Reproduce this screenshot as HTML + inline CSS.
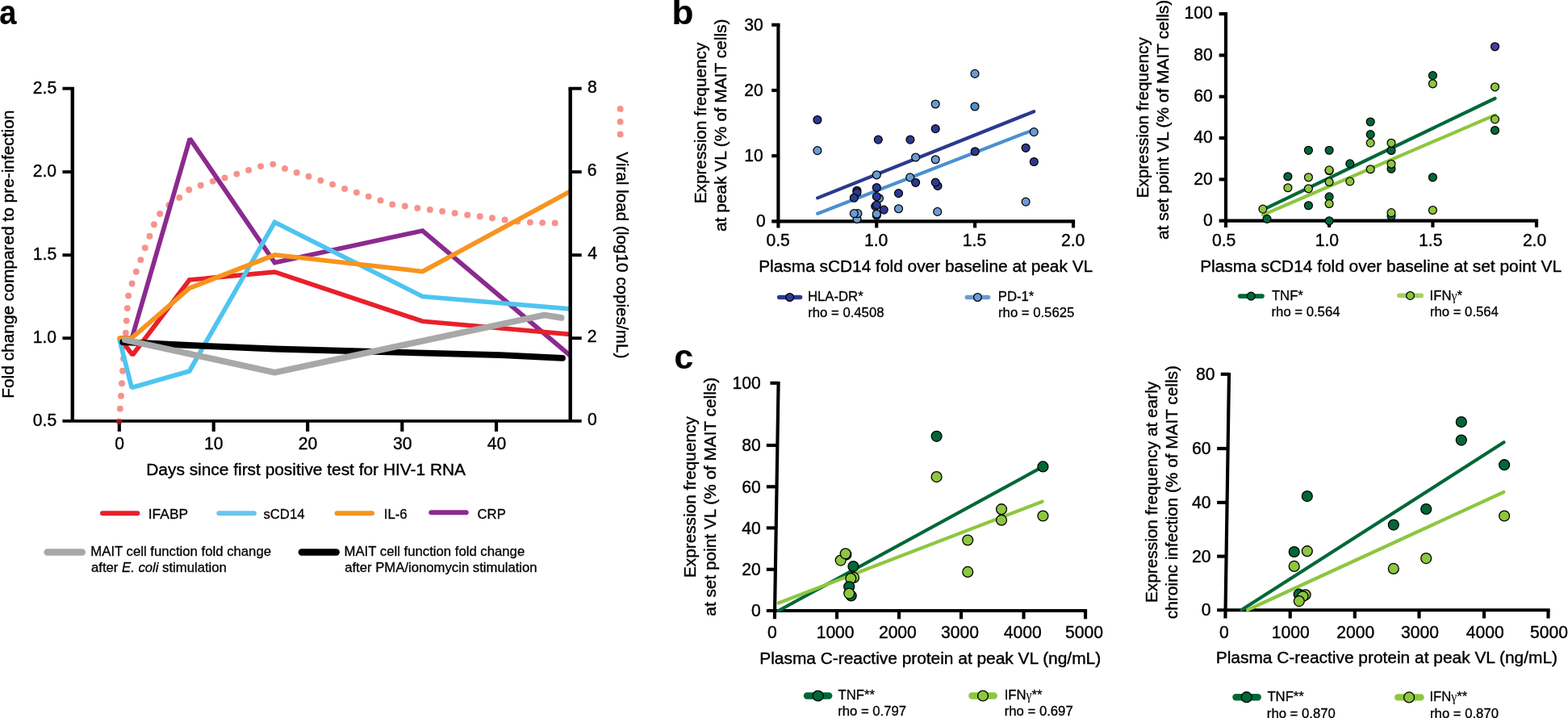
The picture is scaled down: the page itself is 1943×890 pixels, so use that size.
<!DOCTYPE html>
<html lang="en"><head><meta charset="utf-8"><title>Figure</title>
<style>
html,body{margin:0;padding:0;background:#fff;}
body{width:1943px;height:890px;overflow:hidden;}
svg{display:block;font-family:"Liberation Sans",sans-serif;}
text{fill:#000;stroke:#000;stroke-width:0.4px;stroke-linejoin:round;}
text.b{stroke-width:0.2px;}
text.s{stroke-width:0.3px;}
</style></head><body>
<svg width="1943" height="890" viewBox="0 0 1943 890">
<rect width="1943" height="890" fill="#fff"/>
<g id="panel-a">
<text x="-0.69" y="30.40" font-size="43.00" font-weight="bold" class="b" textLength="21.20" lengthAdjust="spacingAndGlyphs" >a</text>
<circle cx="147.50" cy="522.10" r="3.95" fill="#F6928B"/>
<circle cx="148.80" cy="506.60" r="3.95" fill="#F6928B"/>
<circle cx="150.00" cy="490.80" r="3.95" fill="#F6928B"/>
<circle cx="151.00" cy="475.30" r="3.95" fill="#F6928B"/>
<circle cx="152.00" cy="459.80" r="3.95" fill="#F6928B"/>
<circle cx="153.00" cy="444.50" r="3.95" fill="#F6928B"/>
<circle cx="154.30" cy="429.00" r="3.95" fill="#F6928B"/>
<circle cx="155.80" cy="412.70" r="3.95" fill="#F6928B"/>
<circle cx="156.80" cy="397.60" r="3.95" fill="#F6928B"/>
<circle cx="157.80" cy="382.10" r="3.95" fill="#F6928B"/>
<circle cx="159.10" cy="366.60" r="3.95" fill="#F6928B"/>
<circle cx="163.60" cy="351.50" r="3.95" fill="#F6928B"/>
<circle cx="168.80" cy="336.80" r="3.95" fill="#F6928B"/>
<circle cx="174.30" cy="322.10" r="3.95" fill="#F6928B"/>
<circle cx="179.80" cy="307.30" r="3.95" fill="#F6928B"/>
<circle cx="185.40" cy="292.80" r="3.95" fill="#F6928B"/>
<circle cx="190.90" cy="278.30" r="3.95" fill="#F6928B"/>
<circle cx="198.10" cy="265.00" r="3.95" fill="#F6928B"/>
<circle cx="209.40" cy="254.30" r="3.95" fill="#F6928B"/>
<circle cx="222.20" cy="244.90" r="3.95" fill="#F6928B"/>
<circle cx="234.20" cy="235.20" r="3.95" fill="#F6928B"/>
<circle cx="248.70" cy="229.70" r="3.95" fill="#F6928B"/>
<circle cx="263.80" cy="224.60" r="3.95" fill="#F6928B"/>
<circle cx="278.50" cy="220.40" r="3.95" fill="#F6928B"/>
<circle cx="293.30" cy="215.60" r="3.95" fill="#F6928B"/>
<circle cx="308.10" cy="210.90" r="3.95" fill="#F6928B"/>
<circle cx="323.10" cy="206.10" r="3.95" fill="#F6928B"/>
<circle cx="338.20" cy="203.60" r="3.95" fill="#F6928B"/>
<circle cx="353.00" cy="208.90" r="3.95" fill="#F6928B"/>
<circle cx="367.70" cy="213.90" r="3.95" fill="#F6928B"/>
<circle cx="382.50" cy="218.80" r="3.95" fill="#F6928B"/>
<circle cx="397.30" cy="223.80" r="3.95" fill="#F6928B"/>
<circle cx="412.10" cy="228.60" r="3.95" fill="#F6928B"/>
<circle cx="427.10" cy="233.90" r="3.95" fill="#F6928B"/>
<circle cx="441.90" cy="238.60" r="3.95" fill="#F6928B"/>
<circle cx="456.70" cy="243.60" r="3.95" fill="#F6928B"/>
<circle cx="471.50" cy="248.40" r="3.95" fill="#F6928B"/>
<circle cx="486.20" cy="253.40" r="3.95" fill="#F6928B"/>
<circle cx="501.80" cy="255.40" r="3.95" fill="#F6928B"/>
<circle cx="517.30" cy="257.90" r="3.95" fill="#F6928B"/>
<circle cx="532.80" cy="259.90" r="3.95" fill="#F6928B"/>
<circle cx="548.10" cy="261.90" r="3.95" fill="#F6928B"/>
<circle cx="563.60" cy="264.20" r="3.95" fill="#F6928B"/>
<circle cx="579.20" cy="266.40" r="3.95" fill="#F6928B"/>
<circle cx="594.70" cy="268.20" r="3.95" fill="#F6928B"/>
<circle cx="610.00" cy="270.30" r="3.95" fill="#F6928B"/>
<circle cx="625.60" cy="272.40" r="3.95" fill="#F6928B"/>
<circle cx="641.30" cy="274.40" r="3.95" fill="#F6928B"/>
<circle cx="656.90" cy="275.60" r="3.95" fill="#F6928B"/>
<circle cx="672.10" cy="276.10" r="3.95" fill="#F6928B"/>
<circle cx="687.70" cy="276.40" r="3.95" fill="#F6928B"/>
<circle cx="768.60" cy="134.90" r="3.95" fill="#F6928B"/>
<circle cx="768.60" cy="150.90" r="3.95" fill="#F6928B"/>
<circle cx="768.60" cy="166.40" r="3.95" fill="#F6928B"/>
<clipPath id="plotclip"><rect x="80" y="100" width="625.20" height="440"/></clipPath>
<g clip-path="url(#plotclip)">
<polyline points="148.50,419.00 163.50,419.00 235.30,171.80 340.40,325.50 523.60,286.00 708.00,441.85" fill="none" stroke="#8C2A8F" stroke-width="5.70" stroke-linecap="butt" stroke-linejoin="miter" stroke-miterlimit="1.42"/>
<polyline points="148.30,419.00 164.30,440.00 234.70,347.00 340.40,337.10 523.60,398.30 708.00,414.59" fill="none" stroke="#E8202A" stroke-width="5.70" stroke-linecap="butt" stroke-linejoin="miter" stroke-miterlimit="1.42"/>
<polyline points="147.60,419.00 163.20,480.50 234.70,460.00 340.40,275.40 523.60,367.50 708.00,383.08" fill="none" stroke="#4FC4F1" stroke-width="5.70" stroke-linecap="butt" stroke-linejoin="miter" stroke-miterlimit="1.42"/>
<polyline points="148.10,419.00 163.30,418.80 235.00,357.00 340.40,316.00 523.60,336.50 708.00,236.46" fill="none" stroke="#F7941E" stroke-width="5.70" stroke-linecap="round" stroke-linejoin="miter" stroke-miterlimit="1.42"/>
</g>
<polyline points="152.20,424.00 234.00,428.00 340.00,432.50 620.00,440.10 697.00,443.80" fill="none" stroke="#000" stroke-width="7.80" stroke-linecap="round" stroke-linejoin="round" stroke-miterlimit="10"/>
<polyline points="154.90,421.20 340.40,461.70 674.40,390.50 695.60,393.80" fill="none" stroke="#A8A8A8" stroke-width="7.80" stroke-linecap="round" stroke-linejoin="round" stroke-miterlimit="10"/>
<line x1="89.80" y1="109.70" x2="89.80" y2="521.90" stroke="#000" stroke-width="4.40" stroke-linecap="butt"/>
<line x1="706.70" y1="109.70" x2="706.70" y2="521.90" stroke="#000" stroke-width="4.40" stroke-linecap="butt"/>
<line x1="77.40" y1="109.70" x2="92.00" y2="109.70" stroke="#000" stroke-width="3.92" stroke-linecap="butt"/>
<line x1="704.50" y1="109.70" x2="720.70" y2="109.70" stroke="#000" stroke-width="3.92" stroke-linecap="butt"/>
<line x1="77.40" y1="521.90" x2="720.70" y2="521.90" stroke="#000" stroke-width="3.92" stroke-linecap="butt"/>
<line x1="77.40" y1="213.10" x2="89.80" y2="213.10" stroke="#000" stroke-width="3.92" stroke-linecap="butt"/>
<line x1="706.70" y1="213.10" x2="720.70" y2="213.10" stroke="#000" stroke-width="3.92" stroke-linecap="butt"/>
<line x1="77.40" y1="316.20" x2="89.80" y2="316.20" stroke="#000" stroke-width="3.92" stroke-linecap="butt"/>
<line x1="706.70" y1="316.20" x2="720.70" y2="316.20" stroke="#000" stroke-width="3.92" stroke-linecap="butt"/>
<line x1="77.40" y1="419.20" x2="89.80" y2="419.20" stroke="#000" stroke-width="3.92" stroke-linecap="butt"/>
<line x1="706.70" y1="419.20" x2="720.70" y2="419.20" stroke="#000" stroke-width="3.92" stroke-linecap="butt"/>
<line x1="147.80" y1="521.90" x2="147.80" y2="534.90" stroke="#000" stroke-width="4.15" stroke-linecap="butt"/>
<line x1="264.70" y1="521.90" x2="264.70" y2="534.90" stroke="#000" stroke-width="4.15" stroke-linecap="butt"/>
<line x1="381.20" y1="521.90" x2="381.20" y2="534.90" stroke="#000" stroke-width="4.15" stroke-linecap="butt"/>
<line x1="498.30" y1="521.90" x2="498.30" y2="534.90" stroke="#000" stroke-width="4.15" stroke-linecap="butt"/>
<line x1="615.00" y1="521.90" x2="615.00" y2="534.90" stroke="#000" stroke-width="4.15" stroke-linecap="butt"/>
<text x="40.81" y="115.60" font-size="22.40" textLength="29.33" lengthAdjust="spacingAndGlyphs" >2.5</text>
<text x="40.76" y="219.00" font-size="22.40" textLength="29.33" lengthAdjust="spacingAndGlyphs" >2.0</text>
<text x="40.81" y="322.10" font-size="22.40" textLength="29.33" lengthAdjust="spacingAndGlyphs" >1.5</text>
<text x="40.76" y="425.10" font-size="22.40" textLength="29.33" lengthAdjust="spacingAndGlyphs" >1.0</text>
<text x="40.81" y="527.80" font-size="22.40" textLength="29.33" lengthAdjust="spacingAndGlyphs" >0.5</text>
<text x="727.90" y="114.70" font-size="22.40" textLength="11.74" lengthAdjust="spacingAndGlyphs" >8</text>
<text x="727.75" y="218.10" font-size="22.40" textLength="11.74" lengthAdjust="spacingAndGlyphs" >6</text>
<text x="728.33" y="321.20" font-size="22.40" textLength="11.74" lengthAdjust="spacingAndGlyphs" >4</text>
<text x="727.75" y="424.20" font-size="22.40" textLength="11.74" lengthAdjust="spacingAndGlyphs" >2</text>
<text x="727.96" y="526.90" font-size="22.40" textLength="11.74" lengthAdjust="spacingAndGlyphs" >0</text>
<text x="142.32" y="556.60" font-size="22.40" textLength="11.74" lengthAdjust="spacingAndGlyphs" >0</text>
<text x="252.99" y="556.60" font-size="22.40" textLength="23.47" lengthAdjust="spacingAndGlyphs" >10</text>
<text x="369.76" y="556.60" font-size="22.40" textLength="23.47" lengthAdjust="spacingAndGlyphs" >20</text>
<text x="486.99" y="556.60" font-size="22.40" textLength="23.47" lengthAdjust="spacingAndGlyphs" >30</text>
<text x="603.85" y="556.60" font-size="22.40" textLength="23.47" lengthAdjust="spacingAndGlyphs" >40</text>
<text x="181.28" y="589.00" font-size="20.85" textLength="395.74" lengthAdjust="spacingAndGlyphs" >Days since first positive test for HIV-1 RNA</text>
<text transform="translate(16.60,493.72) rotate(-90)" font-size="20.85" textLength="357.11" lengthAdjust="spacingAndGlyphs" >Fold change compared to pre-infection</text>
<text transform="translate(764.30,188.30) rotate(90)" font-size="20.85" textLength="255.99" lengthAdjust="spacingAndGlyphs" >Viral load (log10 copies/mL)</text>
<clipPath id="axclip"><rect x="77.4" y="519.94" width="650" height="3.92"/><rect x="145.73" y="520" width="4.15" height="14.3"/></clipPath>
<circle cx="147.5" cy="522.1" r="3.95" fill="#7E1B1B" clip-path="url(#axclip)"/>
<line x1="127.00" y1="636.20" x2="170.30" y2="636.20" stroke="#E8202A" stroke-width="6.00" stroke-linecap="round"/>
<line x1="271.30" y1="636.20" x2="314.90" y2="636.20" stroke="#6AC5EE" stroke-width="6.00" stroke-linecap="round"/>
<line x1="417.60" y1="636.20" x2="461.00" y2="636.20" stroke="#F7941E" stroke-width="6.00" stroke-linecap="round"/>
<line x1="534.30" y1="635.20" x2="577.70" y2="635.20" stroke="#8C2A8F" stroke-width="6.00" stroke-linecap="round"/>
<text x="183.79" y="642.60" font-size="16.70" class="s" textLength="49.31" lengthAdjust="spacingAndGlyphs" >IFABP</text>
<text x="326.44" y="642.60" font-size="16.70" class="s" >sCD14</text>
<text x="475.76" y="642.60" font-size="16.70" class="s" >IL-6</text>
<text x="591.56" y="642.60" font-size="16.70" class="s" >CRP</text>
<line x1="58.60" y1="684.50" x2="101.80" y2="684.50" stroke="#A8A8A8" stroke-width="8.40" stroke-linecap="round"/>
<line x1="373.80" y1="684.50" x2="416.70" y2="684.50" stroke="#000" stroke-width="8.40" stroke-linecap="round"/>
<text x="112.32" y="689.00" font-size="16.70" class="s" textLength="223.71" lengthAdjust="spacingAndGlyphs" >MAIT cell function fold change</text>
<text class="s" x="112.99" y="709.0" font-size="16.70">after <tspan font-style="italic">E. coli</tspan> stimulation</text>
<text x="426.52" y="689.00" font-size="16.70" class="s" textLength="223.71" lengthAdjust="spacingAndGlyphs" >MAIT cell function fold change</text>
<text x="427.19" y="709.00" font-size="16.70" class="s" textLength="238.41" lengthAdjust="spacingAndGlyphs" >after PMA/ionomycin stimulation</text>
</g>
<g id="panel-b">
<text x="832.63" y="30.20" font-size="43.00" font-weight="bold" class="b" textLength="26.97" lengthAdjust="spacingAndGlyphs" >b</text>
<line x1="964.40" y1="30.80" x2="964.40" y2="282.40" stroke="#000" stroke-width="4.15" stroke-linecap="butt"/>
<line x1="956.20" y1="274.40" x2="1332.08" y2="274.40" stroke="#000" stroke-width="4.15" stroke-linecap="butt"/>
<line x1="956.20" y1="30.80" x2="966.48" y2="30.80" stroke="#000" stroke-width="4.15" stroke-linecap="butt"/>
<line x1="956.20" y1="112.00" x2="964.40" y2="112.00" stroke="#000" stroke-width="4.15" stroke-linecap="butt"/>
<line x1="956.20" y1="193.20" x2="964.40" y2="193.20" stroke="#000" stroke-width="4.15" stroke-linecap="butt"/>
<line x1="1086.20" y1="274.40" x2="1086.20" y2="282.40" stroke="#000" stroke-width="4.15" stroke-linecap="butt"/>
<line x1="1208.10" y1="274.40" x2="1208.10" y2="282.40" stroke="#000" stroke-width="4.15" stroke-linecap="butt"/>
<line x1="1330.00" y1="274.40" x2="1330.00" y2="282.40" stroke="#000" stroke-width="4.15" stroke-linecap="butt"/>
<line x1="1013.10" y1="245.40" x2="1281.20" y2="138.20" stroke="#2B3990" stroke-width="4.20" stroke-linecap="round"/>
<line x1="1013.10" y1="264.80" x2="1281.20" y2="160.80" stroke="#4B90CF" stroke-width="4.20" stroke-linecap="round"/>
<circle cx="1062.00" cy="271.40" r="4.95" fill="#6B9BD2" stroke="#000" stroke-width="1.25"/>
<circle cx="1062.90" cy="264.60" r="4.95" fill="#6B9BD2" stroke="#000" stroke-width="1.25"/>
<circle cx="1086.30" cy="267.10" r="4.95" fill="#2B3990" stroke="#000" stroke-width="1.25"/>
<circle cx="1084.70" cy="255.60" r="4.95" fill="#2B3990" stroke="#000" stroke-width="1.25"/>
<circle cx="1089.40" cy="245.70" r="4.95" fill="#6B9BD2" stroke="#000" stroke-width="1.25"/>
<circle cx="1162.00" cy="230.40" r="4.95" fill="#2B3990" stroke="#000" stroke-width="1.25"/>
<circle cx="1061.90" cy="236.20" r="4.95" fill="#2B3990" stroke="#000" stroke-width="1.25"/>
<circle cx="1127.70" cy="219.90" r="4.95" fill="#6B9BD2" stroke="#000" stroke-width="1.25"/>
<circle cx="1012.90" cy="148.50" r="4.95" fill="#2B3990" stroke="#000" stroke-width="1.25"/>
<circle cx="1012.90" cy="186.60" r="4.95" fill="#6B9BD2" stroke="#000" stroke-width="1.25"/>
<circle cx="1208.00" cy="91.40" r="4.95" fill="#6B9BD2" stroke="#000" stroke-width="1.25"/>
<circle cx="1159.20" cy="129.00" r="4.95" fill="#6B9BD2" stroke="#000" stroke-width="1.25"/>
<circle cx="1208.00" cy="132.00" r="4.95" fill="#4B90CF" stroke="#000" stroke-width="1.25"/>
<circle cx="1159.20" cy="159.60" r="4.95" fill="#2B3990" stroke="#000" stroke-width="1.25"/>
<circle cx="1088.30" cy="173.10" r="4.95" fill="#2B3990" stroke="#000" stroke-width="1.25"/>
<circle cx="1127.90" cy="173.10" r="4.95" fill="#2B3990" stroke="#000" stroke-width="1.25"/>
<circle cx="1134.60" cy="195.00" r="4.95" fill="#6B9BD2" stroke="#000" stroke-width="1.25"/>
<circle cx="1159.20" cy="197.70" r="4.95" fill="#6B9BD2" stroke="#000" stroke-width="1.25"/>
<circle cx="1208.20" cy="187.70" r="4.95" fill="#2B3990" stroke="#000" stroke-width="1.25"/>
<circle cx="1281.20" cy="163.60" r="4.95" fill="#6B9BD2" stroke="#000" stroke-width="1.25"/>
<circle cx="1271.10" cy="183.30" r="4.95" fill="#2B3990" stroke="#000" stroke-width="1.25"/>
<circle cx="1281.30" cy="200.50" r="4.95" fill="#2B3990" stroke="#000" stroke-width="1.25"/>
<circle cx="1086.30" cy="216.80" r="4.95" fill="#6B9BD2" stroke="#000" stroke-width="1.25"/>
<circle cx="1134.60" cy="226.30" r="4.95" fill="#2B3990" stroke="#000" stroke-width="1.25"/>
<circle cx="1159.20" cy="226.10" r="4.95" fill="#2B3990" stroke="#000" stroke-width="1.25"/>
<circle cx="1061.90" cy="238.70" r="4.95" fill="#2B3990" stroke="#000" stroke-width="1.25"/>
<circle cx="1058.30" cy="245.20" r="4.95" fill="#2B3990" stroke="#000" stroke-width="1.25"/>
<circle cx="1086.30" cy="232.50" r="4.95" fill="#2B3990" stroke="#000" stroke-width="1.25"/>
<circle cx="1113.50" cy="239.60" r="4.95" fill="#2B3990" stroke="#000" stroke-width="1.25"/>
<circle cx="1086.30" cy="243.60" r="4.95" fill="#2B3990" stroke="#000" stroke-width="1.25"/>
<circle cx="1086.30" cy="254.10" r="4.95" fill="#2B3990" stroke="#000" stroke-width="1.25"/>
<circle cx="1095.20" cy="260.10" r="4.95" fill="#2B3990" stroke="#000" stroke-width="1.25"/>
<circle cx="1113.50" cy="258.70" r="4.95" fill="#6B9BD2" stroke="#000" stroke-width="1.25"/>
<circle cx="1161.70" cy="262.40" r="4.95" fill="#6B9BD2" stroke="#000" stroke-width="1.25"/>
<circle cx="1271.10" cy="250.10" r="4.95" fill="#6B9BD2" stroke="#000" stroke-width="1.25"/>
<circle cx="1058.30" cy="264.60" r="4.95" fill="#6B9BD2" stroke="#000" stroke-width="1.25"/>
<circle cx="1086.30" cy="265.30" r="4.95" fill="#6B9BD2" stroke="#000" stroke-width="1.25"/>
<text x="922.37" y="37.90" font-size="21.70" textLength="23.47" lengthAdjust="spacingAndGlyphs" >30</text>
<text x="922.37" y="119.10" font-size="21.70" textLength="23.47" lengthAdjust="spacingAndGlyphs" >20</text>
<text x="922.37" y="200.30" font-size="21.70" textLength="23.47" lengthAdjust="spacingAndGlyphs" >10</text>
<text x="936.88" y="281.00" font-size="21.70" textLength="11.74" lengthAdjust="spacingAndGlyphs" >0</text>
<text x="949.54" y="304.90" font-size="21.70" textLength="29.33" lengthAdjust="spacingAndGlyphs" >0.5</text>
<text x="1070.94" y="304.90" font-size="21.70" textLength="29.33" lengthAdjust="spacingAndGlyphs" >1.0</text>
<text x="1192.87" y="304.90" font-size="21.70" textLength="29.33" lengthAdjust="spacingAndGlyphs" >1.5</text>
<text x="1315.00" y="304.90" font-size="21.70" textLength="29.33" lengthAdjust="spacingAndGlyphs" >2.0</text>
<text x="940.18" y="337.10" font-size="20.85" textLength="414.05" lengthAdjust="spacingAndGlyphs" >Plasma sCD14 fold over baseline at peak VL</text>
<text transform="translate(875.20,252.31) rotate(-90)" font-size="20.85" textLength="199.64" lengthAdjust="spacingAndGlyphs" >Expression frequency</text>
<text transform="translate(900.20,287.09) rotate(-90)" font-size="20.85" textLength="263.52" lengthAdjust="spacingAndGlyphs" >at peak VL (% of MAIT cells)</text>
<line x1="965.70" y1="368.50" x2="991.50" y2="368.50" stroke="#2B3990" stroke-width="5.60" stroke-linecap="round"/>
<circle cx="978.60" cy="368.50" r="4.90" fill="#2B3990" stroke="#000" stroke-width="1.25"/>
<text x="1001.02" y="372.90" font-size="16.70" class="s" >HLA-DR*</text>
<text x="1001.27" y="393.10" font-size="16.70" class="s" >rho = 0.4508</text>
<line x1="1198.40" y1="368.50" x2="1224.50" y2="368.50" stroke="#6B9BD2" stroke-width="5.60" stroke-linecap="round"/>
<circle cx="1211.40" cy="368.50" r="4.90" fill="#6B9BD2" stroke="#000" stroke-width="1.25"/>
<text x="1236.82" y="372.90" font-size="16.70" class="s" >PD-1*</text>
<text x="1237.07" y="393.10" font-size="16.70" class="s" >rho = 0.5625</text>
<line x1="1519.00" y1="17.20" x2="1519.00" y2="282.00" stroke="#000" stroke-width="4.15" stroke-linecap="butt"/>
<line x1="1510.60" y1="273.60" x2="1906.08" y2="273.60" stroke="#000" stroke-width="4.15" stroke-linecap="butt"/>
<line x1="1510.60" y1="17.20" x2="1521.08" y2="17.20" stroke="#000" stroke-width="4.15" stroke-linecap="butt"/>
<line x1="1510.60" y1="68.50" x2="1519.00" y2="68.50" stroke="#000" stroke-width="4.15" stroke-linecap="butt"/>
<line x1="1510.60" y1="119.80" x2="1519.00" y2="119.80" stroke="#000" stroke-width="4.15" stroke-linecap="butt"/>
<line x1="1510.60" y1="171.10" x2="1519.00" y2="171.10" stroke="#000" stroke-width="4.15" stroke-linecap="butt"/>
<line x1="1510.60" y1="222.40" x2="1519.00" y2="222.40" stroke="#000" stroke-width="4.15" stroke-linecap="butt"/>
<line x1="1647.10" y1="273.60" x2="1647.10" y2="281.80" stroke="#000" stroke-width="4.15" stroke-linecap="butt"/>
<line x1="1775.40" y1="273.60" x2="1775.40" y2="281.80" stroke="#000" stroke-width="4.15" stroke-linecap="butt"/>
<line x1="1904.00" y1="273.60" x2="1904.00" y2="281.80" stroke="#000" stroke-width="4.15" stroke-linecap="butt"/>
<line x1="1565.00" y1="260.00" x2="1852.50" y2="122.00" stroke="#006838" stroke-width="4.20" stroke-linecap="round"/>
<line x1="1565.00" y1="266.40" x2="1852.50" y2="142.60" stroke="#8DC63F" stroke-width="4.20" stroke-linecap="round"/>
<circle cx="1621.40" cy="186.30" r="4.95" fill="#006838" stroke="#000" stroke-width="1.25"/>
<circle cx="1647.10" cy="186.20" r="4.95" fill="#006838" stroke="#000" stroke-width="1.25"/>
<circle cx="1672.80" cy="202.90" r="4.95" fill="#006838" stroke="#000" stroke-width="1.25"/>
<circle cx="1595.90" cy="218.70" r="4.95" fill="#006838" stroke="#000" stroke-width="1.25"/>
<circle cx="1570.00" cy="271.40" r="4.95" fill="#006838" stroke="#000" stroke-width="1.25"/>
<circle cx="1647.10" cy="273.80" r="4.95" fill="#006838" stroke="#000" stroke-width="1.25"/>
<circle cx="1621.40" cy="254.70" r="4.95" fill="#006838" stroke="#000" stroke-width="1.25"/>
<circle cx="1647.10" cy="243.90" r="4.95" fill="#006838" stroke="#000" stroke-width="1.25"/>
<circle cx="1698.20" cy="151.00" r="4.95" fill="#006838" stroke="#000" stroke-width="1.25"/>
<circle cx="1698.20" cy="166.60" r="4.95" fill="#006838" stroke="#000" stroke-width="1.25"/>
<circle cx="1724.00" cy="186.50" r="4.95" fill="#006838" stroke="#000" stroke-width="1.25"/>
<circle cx="1724.00" cy="209.20" r="4.95" fill="#006838" stroke="#000" stroke-width="1.25"/>
<circle cx="1775.40" cy="219.80" r="4.95" fill="#006838" stroke="#000" stroke-width="1.25"/>
<circle cx="1724.00" cy="267.70" r="4.95" fill="#006838" stroke="#000" stroke-width="1.25"/>
<circle cx="1775.40" cy="93.60" r="4.95" fill="#006838" stroke="#000" stroke-width="1.25"/>
<circle cx="1852.50" cy="161.50" r="4.95" fill="#006838" stroke="#000" stroke-width="1.25"/>
<circle cx="1647.10" cy="211.60" r="4.95" fill="#006838" stroke="#000" stroke-width="1.25"/>
<circle cx="1852.50" cy="57.80" r="4.95" fill="#4E3A9C" stroke="#000" stroke-width="1.25"/>
<circle cx="1647.10" cy="210.90" r="4.95" fill="#8DC63F" stroke="#000" stroke-width="1.25"/>
<circle cx="1621.40" cy="219.80" r="4.95" fill="#8DC63F" stroke="#000" stroke-width="1.25"/>
<circle cx="1647.10" cy="225.50" r="4.95" fill="#8DC63F" stroke="#000" stroke-width="1.25"/>
<circle cx="1672.80" cy="224.90" r="4.95" fill="#8DC63F" stroke="#000" stroke-width="1.25"/>
<circle cx="1595.90" cy="232.70" r="4.95" fill="#8DC63F" stroke="#000" stroke-width="1.25"/>
<circle cx="1621.40" cy="233.80" r="4.95" fill="#8DC63F" stroke="#000" stroke-width="1.25"/>
<circle cx="1564.90" cy="259.10" r="4.95" fill="#8DC63F" stroke="#000" stroke-width="1.25"/>
<circle cx="1647.10" cy="252.50" r="4.95" fill="#8DC63F" stroke="#000" stroke-width="1.25"/>
<circle cx="1698.20" cy="177.10" r="4.95" fill="#8DC63F" stroke="#000" stroke-width="1.25"/>
<circle cx="1724.00" cy="177.30" r="4.95" fill="#8DC63F" stroke="#000" stroke-width="1.25"/>
<circle cx="1724.00" cy="203.30" r="4.95" fill="#8DC63F" stroke="#000" stroke-width="1.25"/>
<circle cx="1698.20" cy="209.70" r="4.95" fill="#8DC63F" stroke="#000" stroke-width="1.25"/>
<circle cx="1775.40" cy="260.50" r="4.95" fill="#8DC63F" stroke="#000" stroke-width="1.25"/>
<circle cx="1724.00" cy="263.60" r="4.95" fill="#8DC63F" stroke="#000" stroke-width="1.25"/>
<circle cx="1775.40" cy="103.80" r="4.95" fill="#8DC63F" stroke="#000" stroke-width="1.25"/>
<circle cx="1852.50" cy="107.80" r="4.95" fill="#8DC63F" stroke="#000" stroke-width="1.25"/>
<circle cx="1852.50" cy="147.90" r="4.95" fill="#8DC63F" stroke="#000" stroke-width="1.25"/>
<text x="1467.61" y="23.40" font-size="21.70" textLength="35.21" lengthAdjust="spacingAndGlyphs" >100</text>
<text x="1479.37" y="74.70" font-size="21.70" textLength="23.47" lengthAdjust="spacingAndGlyphs" >80</text>
<text x="1479.37" y="126.00" font-size="21.70" textLength="23.47" lengthAdjust="spacingAndGlyphs" >60</text>
<text x="1479.37" y="177.30" font-size="21.70" textLength="23.47" lengthAdjust="spacingAndGlyphs" >40</text>
<text x="1479.37" y="228.60" font-size="21.70" textLength="23.47" lengthAdjust="spacingAndGlyphs" >20</text>
<text x="1491.08" y="279.80" font-size="21.70" textLength="11.74" lengthAdjust="spacingAndGlyphs" >0</text>
<text x="1502.04" y="304.90" font-size="21.70" textLength="29.33" lengthAdjust="spacingAndGlyphs" >0.5</text>
<text x="1629.74" y="304.90" font-size="21.70" textLength="29.33" lengthAdjust="spacingAndGlyphs" >1.0</text>
<text x="1758.07" y="304.90" font-size="21.70" textLength="29.33" lengthAdjust="spacingAndGlyphs" >1.5</text>
<text x="1886.90" y="304.90" font-size="21.70" textLength="29.33" lengthAdjust="spacingAndGlyphs" >2.0</text>
<text x="1487.18" y="337.10" font-size="20.85" textLength="447.84" lengthAdjust="spacingAndGlyphs" >Plasma sCD14 fold over baseline at set point VL</text>
<text transform="translate(1422.70,245.51) rotate(-90)" font-size="20.85" textLength="199.34" lengthAdjust="spacingAndGlyphs" >Expression frequency</text>
<text transform="translate(1447.80,296.99) rotate(-90)" font-size="20.85" textLength="297.10" lengthAdjust="spacingAndGlyphs" >at set point VL (% of MAIT cells)</text>
<line x1="1536.60" y1="367.10" x2="1564.00" y2="367.10" stroke="#006838" stroke-width="5.60" stroke-linecap="round"/>
<circle cx="1550.30" cy="367.10" r="4.90" fill="#006838" stroke="#000" stroke-width="1.25"/>
<text x="1575.92" y="371.80" font-size="16.70" class="s" >TNF*</text>
<text x="1575.57" y="391.90" font-size="16.70" class="s" >rho = 0.564</text>
<line x1="1733.90" y1="366.40" x2="1761.20" y2="366.40" stroke="#A3D260" stroke-width="5.60" stroke-linecap="round"/>
<circle cx="1747.50" cy="366.40" r="4.90" fill="#8DC63F" stroke="#000" stroke-width="1.25"/>
<text class="s" x="1771.56" y="371.5" font-size="16.70">IFN<tspan font-family="Liberation Serif, serif" font-size="15.86" stroke="none">γ</tspan>*</text>
<text x="1771.97" y="391.60" font-size="16.70" class="s" >rho = 0.564</text>
</g>
<g id="panel-c">
<text x="835.40" y="456.60" font-size="43.00" font-weight="bold" class="b" textLength="23.62" lengthAdjust="spacingAndGlyphs" >c</text>
<polygon points="962.52,473.00 966.68,473.00 961.98,767.30 957.82,767.30" fill="#000"/>
<line x1="949.80" y1="757.00" x2="1347.08" y2="757.00" stroke="#000" stroke-width="4.15" stroke-linecap="butt"/>
<line x1="954.40" y1="474.80" x2="964.57" y2="474.80" stroke="#000" stroke-width="4.15" stroke-linecap="butt"/>
<line x1="949.80" y1="552.00" x2="963.34" y2="552.00" stroke="#000" stroke-width="4.15" stroke-linecap="butt"/>
<line x1="949.80" y1="603.30" x2="962.52" y2="603.30" stroke="#000" stroke-width="4.15" stroke-linecap="butt"/>
<line x1="949.80" y1="654.40" x2="961.70" y2="654.40" stroke="#000" stroke-width="4.15" stroke-linecap="butt"/>
<line x1="949.80" y1="705.80" x2="960.88" y2="705.80" stroke="#000" stroke-width="4.15" stroke-linecap="butt"/>
<line x1="1037.00" y1="757.00" x2="1037.00" y2="767.30" stroke="#000" stroke-width="4.15" stroke-linecap="butt"/>
<line x1="1114.00" y1="757.00" x2="1114.00" y2="767.30" stroke="#000" stroke-width="4.15" stroke-linecap="butt"/>
<line x1="1191.00" y1="757.00" x2="1191.00" y2="767.30" stroke="#000" stroke-width="4.15" stroke-linecap="butt"/>
<line x1="1268.50" y1="757.00" x2="1268.50" y2="767.30" stroke="#000" stroke-width="4.15" stroke-linecap="butt"/>
<line x1="1345.00" y1="757.00" x2="1345.00" y2="767.30" stroke="#000" stroke-width="4.15" stroke-linecap="butt"/>
<line x1="964.70" y1="757.00" x2="1292.40" y2="578.40" stroke="#006838" stroke-width="4.20" stroke-linecap="round"/>
<line x1="964.70" y1="747.50" x2="1291.50" y2="621.70" stroke="#8DC63F" stroke-width="4.20" stroke-linecap="round"/>
<circle cx="1048.40" cy="687.60" r="6.45" fill="#006838" stroke="#000" stroke-width="1.30"/>
<circle cx="1041.70" cy="694.60" r="6.45" fill="#8DC63F" stroke="#000" stroke-width="1.30"/>
<circle cx="1047.70" cy="686.30" r="6.45" fill="#8DC63F" stroke="#000" stroke-width="1.30"/>
<circle cx="1057.40" cy="702.00" r="6.45" fill="#006838" stroke="#000" stroke-width="1.30"/>
<circle cx="1058.00" cy="715.90" r="6.45" fill="#8DC63F" stroke="#000" stroke-width="1.30"/>
<circle cx="1054.30" cy="717.10" r="6.45" fill="#8DC63F" stroke="#000" stroke-width="1.30"/>
<circle cx="1052.20" cy="727.30" r="6.45" fill="#006838" stroke="#000" stroke-width="1.30"/>
<circle cx="1054.70" cy="738.50" r="6.45" fill="#006838" stroke="#000" stroke-width="1.30"/>
<circle cx="1052.20" cy="735.60" r="6.45" fill="#8DC63F" stroke="#000" stroke-width="1.30"/>
<circle cx="1160.60" cy="540.80" r="6.45" fill="#006838" stroke="#000" stroke-width="1.30"/>
<circle cx="1160.60" cy="591.10" r="6.45" fill="#8DC63F" stroke="#000" stroke-width="1.30"/>
<circle cx="1292.40" cy="578.40" r="6.45" fill="#006838" stroke="#000" stroke-width="1.30"/>
<circle cx="1241.00" cy="631.20" r="6.45" fill="#8DC63F" stroke="#000" stroke-width="1.30"/>
<circle cx="1241.00" cy="644.70" r="6.45" fill="#8DC63F" stroke="#000" stroke-width="1.30"/>
<circle cx="1292.40" cy="639.50" r="6.45" fill="#8DC63F" stroke="#000" stroke-width="1.30"/>
<circle cx="1199.20" cy="669.50" r="6.45" fill="#8DC63F" stroke="#000" stroke-width="1.30"/>
<circle cx="1199.20" cy="708.90" r="6.45" fill="#8DC63F" stroke="#000" stroke-width="1.30"/>
<text x="907.51" y="482.10" font-size="21.70" textLength="35.21" lengthAdjust="spacingAndGlyphs" >100</text>
<text x="919.27" y="559.30" font-size="21.70" textLength="23.47" lengthAdjust="spacingAndGlyphs" >80</text>
<text x="919.27" y="610.60" font-size="21.70" textLength="23.47" lengthAdjust="spacingAndGlyphs" >60</text>
<text x="919.27" y="661.70" font-size="21.70" textLength="23.47" lengthAdjust="spacingAndGlyphs" >40</text>
<text x="919.27" y="713.10" font-size="21.70" textLength="23.47" lengthAdjust="spacingAndGlyphs" >20</text>
<text x="930.98" y="764.30" font-size="21.70" textLength="11.74" lengthAdjust="spacingAndGlyphs" >0</text>
<text x="951.02" y="790.90" font-size="21.70" textLength="11.74" lengthAdjust="spacingAndGlyphs" >0</text>
<text x="1011.66" y="790.90" font-size="21.70" textLength="46.94" lengthAdjust="spacingAndGlyphs" >1000</text>
<text x="1088.92" y="790.90" font-size="21.70" textLength="46.94" lengthAdjust="spacingAndGlyphs" >2000</text>
<text x="1166.05" y="790.90" font-size="21.70" textLength="46.94" lengthAdjust="spacingAndGlyphs" >3000</text>
<text x="1243.71" y="790.90" font-size="21.70" textLength="46.94" lengthAdjust="spacingAndGlyphs" >4000</text>
<text x="1320.03" y="790.90" font-size="21.70" textLength="46.94" lengthAdjust="spacingAndGlyphs" >5000</text>
<text x="941.28" y="822.50" font-size="20.85" textLength="422.83" lengthAdjust="spacingAndGlyphs" >Plasma C-reactive protein at peak VL (ng/mL)</text>
<text transform="translate(862.00,716.12) rotate(-90)" font-size="20.85" textLength="199.95" lengthAdjust="spacingAndGlyphs" >Expression frequency</text>
<text transform="translate(887.30,763.68) rotate(-90)" font-size="20.85" textLength="295.79" lengthAdjust="spacingAndGlyphs" >at set point VL (% of MAIT cells)</text>
<line x1="1000.00" y1="862.50" x2="1027.20" y2="862.50" stroke="#006838" stroke-width="8.40" stroke-linecap="round"/>
<circle cx="1013.60" cy="862.50" r="6.45" fill="#006838" stroke="#000" stroke-width="1.30"/>
<text x="1038.62" y="867.10" font-size="16.70" class="s" >TNF**</text>
<text x="1038.17" y="887.20" font-size="16.70" class="s" >rho = 0.797</text>
<line x1="1204.40" y1="862.50" x2="1231.70" y2="862.50" stroke="#8DC63F" stroke-width="8.40" stroke-linecap="round"/>
<circle cx="1218.00" cy="862.50" r="6.45" fill="#8DC63F" stroke="#000" stroke-width="1.30"/>
<text class="s" x="1244.66" y="867.1" font-size="16.70">IFN<tspan font-family="Liberation Serif, serif" font-size="15.86" stroke="none">γ</tspan>**</text>
<text x="1244.77" y="887.20" font-size="16.70" class="s" >rho = 0.697</text>
<polygon points="1520.92,462.00 1525.08,462.00 1520.48,766.50 1516.32,766.50" fill="#000"/>
<line x1="1508.10" y1="756.20" x2="1920.58" y2="756.20" stroke="#000" stroke-width="4.15" stroke-linecap="butt"/>
<line x1="1512.70" y1="463.80" x2="1522.97" y2="463.80" stroke="#000" stroke-width="4.15" stroke-linecap="butt"/>
<line x1="1508.10" y1="556.00" x2="1521.58" y2="556.00" stroke="#000" stroke-width="4.15" stroke-linecap="butt"/>
<line x1="1508.10" y1="622.90" x2="1520.57" y2="622.90" stroke="#000" stroke-width="4.15" stroke-linecap="butt"/>
<line x1="1508.10" y1="689.60" x2="1519.56" y2="689.60" stroke="#000" stroke-width="4.15" stroke-linecap="butt"/>
<line x1="1598.70" y1="756.20" x2="1598.70" y2="766.50" stroke="#000" stroke-width="4.15" stroke-linecap="butt"/>
<line x1="1678.80" y1="756.20" x2="1678.80" y2="766.50" stroke="#000" stroke-width="4.15" stroke-linecap="butt"/>
<line x1="1758.50" y1="756.20" x2="1758.50" y2="766.50" stroke="#000" stroke-width="4.15" stroke-linecap="butt"/>
<line x1="1839.00" y1="756.20" x2="1839.00" y2="766.50" stroke="#000" stroke-width="4.15" stroke-linecap="butt"/>
<line x1="1918.50" y1="756.20" x2="1918.50" y2="766.50" stroke="#000" stroke-width="4.15" stroke-linecap="butt"/>
<line x1="1538.50" y1="756.00" x2="1863.50" y2="548.30" stroke="#006838" stroke-width="4.20" stroke-linecap="round"/>
<line x1="1546.00" y1="756.00" x2="1863.30" y2="610.00" stroke="#8DC63F" stroke-width="4.20" stroke-linecap="round"/>
<circle cx="1619.80" cy="615.10" r="6.45" fill="#006838" stroke="#000" stroke-width="1.30"/>
<circle cx="1603.70" cy="684.00" r="6.45" fill="#006838" stroke="#000" stroke-width="1.30"/>
<circle cx="1619.80" cy="683.20" r="6.45" fill="#8DC63F" stroke="#000" stroke-width="1.30"/>
<circle cx="1603.70" cy="701.90" r="6.45" fill="#8DC63F" stroke="#000" stroke-width="1.30"/>
<circle cx="1609.60" cy="736.70" r="6.45" fill="#006838" stroke="#000" stroke-width="1.30"/>
<circle cx="1617.60" cy="737.30" r="6.45" fill="#8DC63F" stroke="#000" stroke-width="1.30"/>
<circle cx="1614.50" cy="739.20" r="6.45" fill="#8DC63F" stroke="#000" stroke-width="1.30"/>
<circle cx="1609.80" cy="745.10" r="6.45" fill="#8DC63F" stroke="#000" stroke-width="1.30"/>
<circle cx="1810.80" cy="523.00" r="6.45" fill="#006838" stroke="#000" stroke-width="1.30"/>
<circle cx="1810.80" cy="545.60" r="6.45" fill="#006838" stroke="#000" stroke-width="1.30"/>
<circle cx="1864.10" cy="576.20" r="6.45" fill="#006838" stroke="#000" stroke-width="1.30"/>
<circle cx="1767.20" cy="631.00" r="6.45" fill="#006838" stroke="#000" stroke-width="1.30"/>
<circle cx="1726.80" cy="650.60" r="6.45" fill="#006838" stroke="#000" stroke-width="1.30"/>
<circle cx="1864.10" cy="639.50" r="6.45" fill="#8DC63F" stroke="#000" stroke-width="1.30"/>
<circle cx="1767.20" cy="692.10" r="6.45" fill="#8DC63F" stroke="#000" stroke-width="1.30"/>
<circle cx="1726.80" cy="704.90" r="6.45" fill="#8DC63F" stroke="#000" stroke-width="1.30"/>
<text x="1482.07" y="470.90" font-size="21.70" textLength="23.47" lengthAdjust="spacingAndGlyphs" >80</text>
<text x="1476.97" y="563.00" font-size="21.70" textLength="23.47" lengthAdjust="spacingAndGlyphs" >60</text>
<text x="1476.97" y="629.90" font-size="21.70" textLength="23.47" lengthAdjust="spacingAndGlyphs" >40</text>
<text x="1476.97" y="696.60" font-size="21.70" textLength="23.47" lengthAdjust="spacingAndGlyphs" >20</text>
<text x="1488.68" y="763.20" font-size="21.70" textLength="11.74" lengthAdjust="spacingAndGlyphs" >0</text>
<text x="1511.02" y="790.90" font-size="21.70" textLength="11.74" lengthAdjust="spacingAndGlyphs" >0</text>
<text x="1575.86" y="790.90" font-size="21.70" textLength="46.94" lengthAdjust="spacingAndGlyphs" >1000</text>
<text x="1656.22" y="790.90" font-size="21.70" textLength="46.94" lengthAdjust="spacingAndGlyphs" >2000</text>
<text x="1736.05" y="790.90" font-size="21.70" textLength="46.94" lengthAdjust="spacingAndGlyphs" >3000</text>
<text x="1816.71" y="790.90" font-size="21.70" textLength="46.94" lengthAdjust="spacingAndGlyphs" >4000</text>
<text x="1896.03" y="790.90" font-size="21.70" textLength="46.94" lengthAdjust="spacingAndGlyphs" >5000</text>
<text x="1506.78" y="822.30" font-size="20.85" textLength="423.23" lengthAdjust="spacingAndGlyphs" >Plasma C-reactive protein at peak VL (ng/mL)</text>
<text transform="translate(1433.70,747.02) rotate(-90)" font-size="20.85" textLength="274.19" lengthAdjust="spacingAndGlyphs" >Expression frequency at early</text>
<text transform="translate(1458.70,767.18) rotate(-90)" font-size="20.85" textLength="314.10" lengthAdjust="spacingAndGlyphs" >chroinc infection (% of MAIT cells)</text>
<line x1="1531.40" y1="864.20" x2="1558.70" y2="864.20" stroke="#006838" stroke-width="8.40" stroke-linecap="round"/>
<circle cx="1544.70" cy="864.20" r="6.45" fill="#006838" stroke="#000" stroke-width="1.30"/>
<text x="1570.42" y="869.10" font-size="16.70" class="s" >TNF**</text>
<text x="1569.87" y="889.90" font-size="16.70" class="s" >rho = 0.870</text>
<line x1="1732.20" y1="864.40" x2="1760.50" y2="864.40" stroke="#8DC63F" stroke-width="8.40" stroke-linecap="round"/>
<circle cx="1746.10" cy="864.40" r="6.45" fill="#8DC63F" stroke="#000" stroke-width="1.30"/>
<text class="s" x="1771.46" y="869.1" font-size="16.70">IFN<tspan font-family="Liberation Serif, serif" font-size="15.86" stroke="none">γ</tspan>**</text>
<text x="1772.07" y="889.90" font-size="16.70" class="s" >rho = 0.870</text>
</g>
</svg>
</body></html>
